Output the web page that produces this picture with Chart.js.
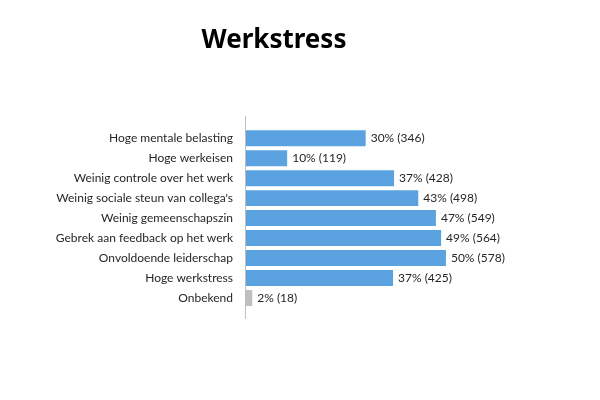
<!DOCTYPE html>
<html>
<head>
<meta charset="utf-8">
<script src="https://cdn.jsdelivr.net/npm/chart.js@4"></script>
<style>
html,body{margin:0;padding:0;background:#fff;}
#wrap{width:600px;height:400px;position:relative;}
</style>
</head>
<body>
<div id="wrap"><canvas id="c"></canvas></div>
<script>
const categories = [
  "Hoge mentale belasting",
  "Hoge werkeisen",
  "Weinig controle over het werk",
  "Weinig sociale steun van collega's",
  "Weinig gemeenschapszin",
  "Gebrek aan feedback op het werk",
  "Onvoldoende leiderschap",
  "Hoge werkstress",
  "Onbekend"
];
const counts = [346, 119, 428, 498, 549, 564, 578, 425, 18];
const percents = [30, 10, 37, 43, 47, 49, 50, 37, 2];
const titleText = "Werkstress";

const FONT = "Lato, 'Noto Sans', sans-serif";
const TITLE_FONT = "'Noto Sans', 'Open Sans', sans-serif";
const blue = "#5BA3E0";
const grey = "#BFBFBF";
const barColors = categories.map(c => c === "Onbekend" ? grey : blue);

const valueLabels = {
  id: 'valueLabels',
  afterDatasetsDraw(chart) {
    const ctx = chart.ctx;
    const meta = chart.getDatasetMeta(0);
    ctx.save();
    ctx.font = "12px " + FONT;
    ctx.fillStyle = "#262626";
    ctx.textAlign = "left";
    ctx.textBaseline = "middle";
    meta.data.forEach((bar, i) => {
      ctx.fillText(percents[i] + "% (" + counts[i] + ")", bar.x + 5, bar.y);
    });
    ctx.restore();
  }
};

const axisLine = {
  id: 'axisLine',
  afterDatasetsDraw(chart) {
    const ctx = chart.ctx;
    const x = Math.round(chart.scales.x.getPixelForValue(0)) - 0.5;
    const a = chart.chartArea;
    ctx.save();
    ctx.strokeStyle = "#BFBFBF";
    ctx.lineWidth = 1;
    ctx.beginPath();
    ctx.moveTo(x, a.top - 12);
    ctx.lineTo(x, a.bottom + 11);
    ctx.stroke();
    ctx.restore();
  }
};

new Chart(document.getElementById('c'), {
  type: 'bar',
  data: {
    labels: categories,
    datasets: [{
      data: counts,
      backgroundColor: barColors,
      borderWidth: 0,
      barPercentage: 0.8,
      categoryPercentage: 1.0
    }]
  },
  options: {
    indexAxis: 'y',
    responsive: true,
    maintainAspectRatio: false,
    animation: false,
    devicePixelRatio: 1,
    layout: { padding: { left: 0, right: 52, top: 0, bottom: 92 } },
    plugins: {
      legend: { display: false },
      tooltip: { enabled: false },
      title: {
        display: true,
        text: titleText,
        color: "#000",
        font: { family: TITLE_FONT, size: 26, weight: 'bold' },
        padding: { top: 25, bottom: 72 }
      }
    },
    scales: {
      x: {
        display: false,
        min: 0,
        max: 873
      },
      y: {
        afterFit(scale) { scale.width = 246; },
        grid: { display: false, drawTicks: false },
        border: { display: false },
        ticks: {
          color: "#262626",
          padding: 13,
          font: { family: FONT, size: 12 }
        }
      }
    }
  },
  plugins: [valueLabels, axisLine]
});
</script>
</body>
</html>
